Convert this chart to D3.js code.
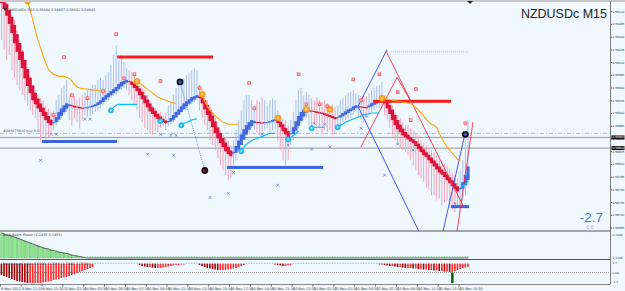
<!DOCTYPE html>
<html>
<head>
<meta charset="utf-8">
<script src="https://cdn.jsdelivr.net/npm/d3@7"></script>
<style>
html, body { margin: 0; padding: 0; background: #f0f8ff; }
svg { display: block; font-family: "DejaVu Sans", sans-serif; }
</style>
</head>
<body>
<div id="chart"></div>
<script>
// heiken ashi close, real high and low for each M15 bar, in points (price * 1e5)
var haClose = [
  59127,59115,59102,59086,59068,59048,59031,59015,58999,58979,
  58964,58950,58936,58928,58920,58913,58905,58897,58891,58887,
  58893,58903,58913,58920,58926,58930,58928,58924,58922,58922,
  58920,58920,58922,58922,58924,58926,58928,58932,58936,58942,
  58946,58950,58954,58958,58962,58968,58972,58974,58976,58972,
  58966,58960,58954,58946,58938,58930,58922,58914,58909,58903,
  58899,58895,58893,58891,58895,58901,58907,58913,58918,58924,
  58930,58934,58938,58942,58944,58946,58940,58930,58918,58907,
  58895,58883,58871,58861,58852,58844,58836,58830,58826,58834,
  58846,58857,58869,58879,58887,58893,58897,58895,58893,58891,
  58891,58893,58893,58895,58897,58899,58891,58883,58875,58869,
  58863,58871,58883,58895,58905,58913,58918,58920,58916,58914,
  58913,58911,58911,58909,58907,58905,58903,58901,58899,58903,
  58907,58911,58914,58918,58920,58924,58926,58924,58922,58922,
  58922,58926,58930,58932,58934,58936,58938,58930,58920,58909,
  58897,58887,58879,58873,58867,58863,58859,58855,58852,58846,
  58840,58834,58828,58824,58818,58812,58806,58800,58794,58790,
  58785,58779,58773,58767,58761,58757,58763,58775,58789,58806
];
var firstOpen = 59145;
var barHigh = [
  59150,59145,59129,59117,59103,59094,59074,59054,59035,59015,
  58995,58985,58966,58956,58946,58940,58936,58926,58920,58913,
  58916,58936,58946,58960,58966,58976,58946,58940,58944,58936,
  58940,58946,58952,58956,58960,58966,58966,58976,58979,58976,
  58985,58991,59005,59025,59044,59015,59025,59011,58999,58995,
  58991,58985,58976,58966,58960,58956,58946,58936,58926,58920,
  58916,58913,58907,58911,58926,58936,58946,58960,58966,58976,
  58979,58985,58991,58995,58999,58995,58966,58956,58946,58936,
  58926,58913,58901,58887,58877,58867,58861,58857,58848,58857,
  58877,58897,58916,58936,58946,58946,58936,58926,58936,58932,
  58940,58936,58926,58936,58940,58936,58916,58907,58901,58897,
  58887,58897,58913,58936,58956,58960,58946,58952,58946,58940,
  58936,58942,58936,58932,58936,58930,58926,58928,58922,58926,
  58936,58940,58946,58950,58952,58956,58950,58946,58942,58946,
  58944,58950,58956,58960,58964,58966,58972,58946,58940,58936,
  58926,58913,58907,58901,58893,58887,58887,58881,58877,58871,
  58867,58857,58853,58848,58842,58838,58834,58828,58822,58818,
  58812,58808,58802,58794,58789,58783,58798,58818,58857,58897
];
var barLow = [
  59054,59035,59015,59025,58995,58979,58966,58956,58946,58936,
  58926,58916,58907,58901,58881,58857,58867,58853,58861,58871,
  58877,58887,58893,58901,58907,58913,58897,58887,58901,58893,
  58881,58897,58907,58903,58905,58909,58913,58916,58920,58926,
  58932,58936,58940,58944,58946,58952,58956,58960,58956,58946,
  58936,58926,58916,58901,58893,58881,58877,58871,58867,58877,
  58873,58881,58885,58877,58885,58889,58893,58901,58907,58913,
  58916,58920,58926,58928,58932,58936,58916,58901,58887,58877,
  58857,58848,58838,58822,58808,58798,58789,58779,58783,58808,
  58818,58834,58848,58857,58867,58873,58881,58877,58873,58867,
  58871,58877,58881,58873,58877,58881,58857,58838,58818,58808,
  58818,58848,58857,58867,58881,58893,58897,58901,58887,58881,
  58885,58877,58881,58867,58877,58873,58877,58867,58873,58881,
  58887,58893,58897,58901,58901,58907,58913,58901,58897,58893,
  58901,58907,58913,58916,58920,58920,58920,58907,58897,58881,
  58867,58857,58852,58842,58838,58834,58828,58818,58808,58798,
  58789,58783,58775,58763,58759,58749,58749,58739,58743,58729,
  58735,58739,58724,58720,58716,58729,58729,58739,58749,58769
];

var timeLabels = [
  "9 Nov 2023","9 Nov 21:30","9 Nov 23:30","10 Nov 01:30","10 Nov 03:30","10 Nov 05:30",
  "10 Nov 07:30","10 Nov 09:30","10 Nov 11:30","10 Nov 13:30","10 Nov 15:30","10 Nov 17:30",
  "10 Nov 19:30","10 Nov 21:30","10 Nov 23:30","13 Nov 01:30","13 Nov 03:30","13 Nov 05:30",
  "13 Nov 07:30","13 Nov 09:30","13 Nov 11:30","13 Nov 13:30","13 Nov 15:30"
];
var priceTicks = [0.59110,0.59085,0.59060,0.59035,0.59010,0.58985,0.58960,0.58935,0.58910,
  0.58885,0.58860,0.58835,0.58810,0.58785,0.58760,0.58735,0.58710,0.58685];

// trailing stop lines: [bar, points]
var orangeStops = [
  [[10,59131],[11,59113],[12,59094],[13,59074],[14,59054],[15,59039],[16,59023],[17,59009],[18,58997],
   [19,58991],[20,58987],[21,58985],[22,58983],[23,58983],[24,58983],[25,58981],[26,58979],[27,58974],
   [28,58966],[29,58962],[30,58960],[31,58959],[32,58958],[33,58958],[34,58957],[35,58956],[36,58956],
   [37,58955],[38,58954],[39,58954],[40,58954]],
  [[52,58973],[53,58970],[54,58966],[55,58962],[56,58958],[57,58954],[58,58950],[59,58946],[60,58942],
   [61,58940],[62,58938],[63,58936],[64,58934],[65,58932],[66,58930],[67,58930]],
  [[77,58948],[78,58934],[79,58924],[80,58916],[81,58911],[82,58905],[83,58901],[84,58897],[85,58893],
   [86,58891],[87,58889],[88,58889],[89,58889],[90,58889],[91,58889]],
  [[106,58901],[107,58899]],
  [[117,58918],[118,58916]],
  [[126,58918],[127,58914]],
  [[146,58940],[147,58939],[148,58938],[149,58937],[150,58936],[151,58936],[152,58934],[153,58934],
   [154,58932],[155,58932],[156,58930],[157,58930],[158,58926],[159,58922],[160,58916],[161,58911],
   [162,58905],[163,58899],[164,58893],[165,58889],[166,58887],[167,58883],[168,58871],[169,58861],
   [170,58852],[171,58844],[172,58838],[173,58832],[174,58826],[175,58820],[176,58816]]
];
var cyanStops = [
  [[42,58916],[43,58922],[44,58926],[45,58928],[46,58928],[47,58928],[48,58928],[49,58928],[50,58928],[52,58928]],
  [[61,58895],[62,58897]],
  [[69,58887],[70,58891],[71,58893],[72,58895],[73,58897],[74,58899],[75,58899]],
  [[92,58836],[93,58844],[94,58850],[95,58853],[96,58857],[97,58859],[98,58861],[99,58863],[100,58865],
   [101,58867],[102,58869],[103,58871],[104,58871],[105,58871]],
  [[110,58859],[111,58863],[112,58867],[113,58871],[114,58875]],
  [[119,58881],[120,58883],[121,58883],[122,58883],[123,58883],[124,58883]],
  [[129,58883],[130,58887],[131,58889],[132,58893],[133,58895],[134,58897],[135,58899],[136,58901],
   [137,58903],[138,58905],[139,58907],[140,58909],[141,58909],[142,58911],[143,58911],[144,58911],[145,58911]],
  [[176,58763],[177,58767],[178,58771],[179,58777]]
];

var redMarks = [[24,59021],[44,59066],[27,58946],[33,58940],[39,58954],[47,58979],[51,58987],[61,58974],
  [76,58960],[20,58907],[95,58970],[114,58987],[135,58977],[145,58987],[152,58952],[97,58920],
  [117,58928],[122,58928],[125,58924],[138,58936],[157,58897],[159,58958],[178,58891]];
var blueMarks = [[19,58869],[21,58869],[32,58899],[34,58899],[15,58818],[56,58830],[66,58828],[61,58869],
  [65,58867],[67,58867],[80,58745],[87,58753],[89,58794],[106,58769],[100,58869],[110,58848],
  [119,58840],[126,58844],[120,58891],[124,58889],[138,58881],[140,58905],[147,58789],[158,58838],
  [152,58850],[174,58733]];
var signalDots = [
  { bar: 68.5, p: 58972, c: "#3a5ee0" },
  { bar: 78, p: 58798, c: "#b01020" },
  { bar: 178, p: 58869, c: "#3a5ee0" }
];

// support / resistance zones: from bar, to bar, points
var zones = [
  { a: 44.4, b: 81.2, p: 59021, c: "#ff1a1a" },
  { a: 142.6, b: 172.5, p: 58934, c: "#ff1a1a" },
  { a: 15.5, b: 44.3, p: 58855, c: "#3b64dd" },
  { a: 86.5, b: 123.4, p: 58804, c: "#3b64dd" },
  { a: 172.5, b: 179.4, p: 58727, c: "#3b64dd" }
];
var trendLines = [
  { pts: [[147.9,59035],[136.8,58924],[160.2,58678]], c: "#3344ee" },
  { pts: [[147.5,59033],[177.1,58729]], c: "#ee3344" },
  { pts: [[137.9,58844],[151.8,58981],[156.8,58936]], c: "#ee3344" },
  { pts: [[169.4,58678],[177.9,58871]], c: "#3344ee" },
  { pts: [[174.8,58678],[180.9,58893]], c: "#ee3344" }
];
var targetLine = { a: 148, b: 179.5, p: 59031 };
var orderPrice = 0.58871, bidPrice = 0.58863, askPrice = 0.58842;

// lower windows
var bullsPower = [0.152,0.146,0.140,0.136,0.133,0.127,0.121,0.115,0.109,0.103,0.097,0.091,0.085,
  0.079,0.073,0.067,0.061,0.058,0.055,0.048,0.045,0.042,0.036,0.033,0.030,0.027,0.024,0.018,
  0.015,0.012,0.009,0.006,0.003];
var momentum = [-0.45,-0.63,-0.80,-0.98,-1.16,-1.34,-1.52,-1.61,-1.70,-1.79,-1.88,-1.88,-1.88,-1.88,
  -1.88,-1.88,-1.79,-1.70,-1.61,-1.52,-1.34,-1.25,-1.16,-0.98,-0.89,-0.80,-0.63,-0.45,-0.27,-0.09,
  0.09,0.27,0.45,0.63,0.81,0.98,
  null,null,null,null,null,null,null,null,null,null,null,null,null,null,null,null,null,
  1.34,1.16,1.07,0.98,0.98,0.89,0.81,0.81,0.81,0.89,0.98,1.07,1.16,1.25,1.34,1.34,1.43,1.52,
  null,null,null,null,null,
  1.34,1.16,0.98,0.81,0.72,0.63,0.54,0.45,0.45,0.45,0.45,0.54,0.63,0.72,0.81,0.98,1.16,1.34,
  null,null,null,null,null,null,null,null,null,null,null,
  1.43,1.34,1.25,1.16,1.16,1.25,1.34,
  null,null,null,null,null,null,null,null,null,null,null,null,null,null,null,null,null,null,null,
  null,null,null,null,null,null,null,null,null,null,null,null,null,null,
  1.52,1.43,1.34,1.25,1.16,1.16,1.07,0.98,0.98,0.89,0.81,0.81,0.81,0.72,0.72,0.63,0.63,0.54,0.54,
  0.45,0.45,0.36,0.36,0.27,0.27,0.18,0.18,0.09,0.09,0.27,0.45,0.63,0.81,0.89,0.98];
var momentumSignal = { bar: 173, v: -1.9 };

var axisX = 610.5;

var svg = d3.select("#chart").append("svg")
  .attr("width", 625)
  .attr("height", 291);

svg.append("rect").attr("width", 625).attr("height", 291).attr("fill", "#f0f8ff");

var x = d3.scaleLinear().domain([0, 179]).range([1.5, 1.5 + 179 * 2.606]);
var y = d3.scaleLinear().domain([0.59110, 0.58685]).range([11.7, 228]);
var yB = d3.scaleLinear().domain([0, 0.1455]).range([258, 234]);
var yM = d3.scaleLinear().domain([1.7, -1.7]).range([263, 282]);
function py(pt) { return y(pt / 1e5); }

svg.append("defs").append("clipPath").attr("id", "mainClip")
  .append("rect").attr("x", 0).attr("y", 2).attr("width", axisX).attr("height", 229);
var main = svg.append("g").attr("clip-path", "url(#mainClip)");

// order + price lines
main.append("line").attr("x1", 0).attr("x2", axisX)
  .attr("y1", y(orderPrice)).attr("y2", y(orderPrice))
  .attr("stroke", "#a9bde6").attr("stroke-dasharray", "4,2,1,2");
[bidPrice, askPrice].forEach(function(v) {
  main.append("line").attr("x1", 0).attr("x2", axisX).attr("y1", y(v)).attr("y2", y(v))
    .attr("stroke", "#8c8c8c").attr("stroke-width", 0.9);
});
main.append("text").attr("x", 3).attr("y", y(orderPrice) - 1.2)
  .attr("font-size", 3.4).attr("fill", "#555").text("#088875620 buy 0.01");

// candles: heiken ashi open = mid of the previous body
var bars = [];
haClose.forEach(function(c, i) {
  var o = i === 0 ? firstOpen : (bars[i - 1].o + bars[i - 1].c) / 2;
  bars.push({ i: i, o: o, c: c, h: barHigh[i], l: barLow[i], up: c >= o });
});

main.selectAll("line.wick").data(bars).enter().append("line")
  .attr("class", "wick")
  .attr("x1", function(d) { return x(d.i); })
  .attr("x2", function(d) { return x(d.i); })
  .attr("y1", function(d) { return py(d.h); })
  .attr("y2", function(d) { return py(d.l); })
  .attr("stroke", function(d) { return d.up ? "#a8bdf0" : "#f0a3b7"; })
  .attr("stroke-width", 1);

main.selectAll("rect.body").data(bars).enter().append("rect")
  .attr("class", "body")
  .attr("x", function(d) { return x(d.i) - 1.6; })
  .attr("width", 3.2)
  .attr("y", function(d) { return Math.min(py(d.o), py(d.c)); })
  .attr("height", function(d) { return Math.max(1, Math.abs(py(d.o) - py(d.c))); })
  .attr("fill", function(d) { return d.up ? "#4169e1" : "#dc143c"; });

var line = d3.line()
  .x(function(d) { return x(d[0]); })
  .y(function(d) { return py(d[1]); });

// zones
main.selectAll("rect.zone").data(zones).enter().append("rect")
  .attr("x", function(d) { return x(d.a); })
  .attr("width", function(d) { return x(d.b) - x(d.a); })
  .attr("y", function(d) { return py(d.p) - 1.5; })
  .attr("height", 3)
  .attr("fill", function(d) { return d.c; });

main.append("line")
  .attr("x1", x(targetLine.a)).attr("x2", x(targetLine.b))
  .attr("y1", py(targetLine.p)).attr("y2", py(targetLine.p))
  .attr("stroke", "#b8b8c8").attr("stroke-dasharray", "1,1");

trendLines.forEach(function(t) {
  main.append("path").attr("d", line(t.pts)).attr("fill", "none")
    .attr("stroke", t.c).attr("stroke-width", 0.9);
});

// blue dotted link between signals
main.append("path").attr("d", line([[signalDots[0].bar, signalDots[0].p], [signalDots[1].bar, signalDots[1].p]]))
  .attr("stroke", "#5a7be6").attr("stroke-dasharray", "1,1").attr("fill", "none").attr("stroke-width", 0.8);

// stop lines
orangeStops.forEach(function(s) {
  main.append("path").attr("d", line(s)).attr("fill", "none")
    .attr("stroke", "#ffa500").attr("stroke-width", 1.1);
  main.append("circle").attr("cx", x(s[0][0])).attr("cy", py(s[0][1])).attr("r", 3)
    .attr("fill", "#ffa91f").attr("stroke", "#e88d00").attr("stroke-width", 0.6);
  main.append("circle").attr("cx", x(s[0][0])).attr("cy", py(s[0][1])).attr("r", 1)
    .attr("fill", "#ffe0a0");
});
cyanStops.forEach(function(s, k) {
  main.append("path").attr("d", line(s)).attr("fill", "none")
    .attr("stroke", "#00bfff").attr("stroke-width", 1.1);
  if (k < cyanStops.length - 1) {
    main.append("circle").attr("cx", x(s[0][0])).attr("cy", py(s[0][1])).attr("r", 2.6)
      .attr("fill", "#29c4f5").attr("stroke", "#0f9fd8").attr("stroke-width", 0.6);
    main.append("circle").attr("cx", x(s[0][0])).attr("cy", py(s[0][1])).attr("r", 0.9)
      .attr("fill", "#c8f0ff");
  }
});

// markers
var rm = main.selectAll("g.rm").data(redMarks).enter().append("g")
  .attr("transform", function(d) { return "translate(" + x(d[0]) + "," + py(d[1]) + ")"; });
rm.append("rect").attr("x", -1.8).attr("y", -1.8).attr("width", 3.6).attr("height", 3.6).attr("fill", "#ff5a5a");
rm.append("path").attr("d", "M-1.1,-1.1L1.1,1.1M1.1,-1.1L-1.1,1.1").attr("stroke", "#fff").attr("stroke-width", 0.6);

var bm = main.selectAll("g.bm").data(blueMarks).enter().append("g")
  .attr("transform", function(d) { return "translate(" + x(d[0]) + "," + py(d[1]) + ")"; });
bm.append("path").attr("d", "M-1.4,-1.4L1.4,1.4M1.4,-1.4L-1.4,1.4").attr("stroke", "#5f80e0").attr("stroke-width", 0.8);

signalDots.forEach(function(s) {
  main.append("circle").attr("cx", x(s.bar)).attr("cy", py(s.p)).attr("r", 3.4).attr("fill", "#111");
  main.append("circle").attr("cx", x(s.bar)).attr("cy", py(s.p)).attr("r", 1.6).attr("fill", s.c);
});

// frame
svg.append("line").attr("x1", 0).attr("x2", 625).attr("y1", 1).attr("y2", 1).attr("stroke", "#9a9a9a");
svg.append("line").attr("x1", axisX).attr("x2", axisX).attr("y1", 1).attr("y2", 284).attr("stroke", "#7a7a7a");
svg.append("line").attr("x1", 0).attr("x2", axisX).attr("y1", 231).attr("y2", 231).attr("stroke", "#555").attr("stroke-width", 1.2);
svg.append("line").attr("x1", 0).attr("x2", axisX).attr("y1", 259.5).attr("y2", 259.5).attr("stroke", "#555").attr("stroke-width", 1.2);
svg.append("line").attr("x1", 0).attr("x2", axisX).attr("y1", 284.5).attr("y2", 284.5).attr("stroke", "#888");
svg.append("path").attr("d", "M467,1L473,1L470,4Z").attr("fill", "#222");

// header texts
svg.append("path").attr("d", "M3,8L7,8L5,11Z").attr("fill", "#333");
svg.append("text").attr("x", 10).attr("y", 11).attr("font-size", 3.4).attr("fill", "#444")
  .text("NZDUSDc,M15  0.58884 0.58897 0.58841 0.58845");
svg.append("text").attr("x", 607).attr("y", 18).attr("text-anchor", "end")
  .attr("font-family", "Liberation Sans, Arial, sans-serif").attr("font-size", 12.5).attr("fill", "#222")
  .text("NZDUSDc M15");
svg.append("text").attr("x", 603).attr("y", 222).attr("text-anchor", "end")
  .attr("font-family", "Liberation Sans, Arial, sans-serif").attr("font-size", 13.5).attr("fill", "#4a74d9")
  .text("-2.7");
svg.append("text").attr("x", 590).attr("y", 229).attr("text-anchor", "middle")
  .attr("font-family", "Liberation Sans, Arial, sans-serif").attr("font-size", 5).attr("fill", "#8ea6e8")
  .text("0.0");

// price axis
priceTicks.forEach(function(v) {
  svg.append("line").attr("x1", axisX).attr("x2", axisX + 1.5).attr("y1", y(v)).attr("y2", y(v)).attr("stroke", "#666");
  svg.append("text").attr("x", axisX + 2).attr("y", y(v) + 1).attr("font-size", 2.9).attr("fill", "#333")
    .text(v.toFixed(5));
});
[bidPrice, askPrice].forEach(function(v) {
  svg.append("rect").attr("x", axisX + 1).attr("y", y(v) - 2).attr("width", 13).attr("height", 4).attr("fill", "#111");
  svg.append("text").attr("x", axisX + 2).attr("y", y(v) + 1).attr("font-size", 2.9).attr("fill", "#fff")
    .text(v.toFixed(5));
});

// bulls power window
var bp = bars.map(function(d) { return bullsPower[d.i] !== undefined ? bullsPower[d.i] : 0; });
svg.selectAll("rect.bp").data(bp).enter().append("rect")
  .attr("x", function(d, i) { return x(i) - 1; })
  .attr("width", 1.8)
  .attr("y", function(d) { return yB(d); })
  .attr("height", function(d) { return 258 - yB(d); })
  .attr("fill", "#8fe38f").attr("stroke", "#3cb43c").attr("stroke-width", 0.3);
svg.append("path").attr("d", d3.line().x(function(d, i) { return x(i); }).y(function(d) { return yB(d); })(bp))
  .attr("fill", "none").attr("stroke", "#555").attr("stroke-width", 0.9);
bp.forEach(function(d, i) {
  if (i >= bullsPower.length) {
    svg.append("rect").attr("x", x(i) - 0.8).attr("y", 256.6).attr("width", 1.4).attr("height", 1.2).attr("fill", "#3cc83c");
  }
});
svg.append("text").attr("x", 3).attr("y", 235.5).attr("font-size", 3.4).attr("fill", "#444")
  .text("Bulls Bears Power (1.1455 0.1455)");
svg.append("text").attr("x", axisX + 2).attr("y", 235.5).attr("font-size", 2.9).attr("fill", "#333").text("0.1450");
svg.append("text").attr("x", axisX + 2).attr("y", 258.5).attr("font-size", 2.9).attr("fill", "#333").text("0.1449");

// momentum window
svg.append("line").attr("x1", 0).attr("x2", axisX).attr("y1", yM(0)).attr("y2", yM(0))
  .attr("stroke", "#999").attr("stroke-dasharray", "1,1");
momentum.forEach(function(v, i) {
  if (v === null) {
    svg.append("rect").attr("x", x(i) - 0.7).attr("y", 262.8).attr("width", 1.3).attr("height", 1).attr("fill", "#6ad86a");
  } else {
    var prev = i > 0 ? momentum[i - 1] : null;
    var falling = prev === null || v < prev;
    svg.append("rect").attr("x", x(i) - 0.9).attr("width", 1.6)
      .attr("y", yM(1.6)).attr("height", Math.max(0.8, yM(v) - yM(1.6)))
      .attr("fill", falling ? "#a80000" : "#ff2a2a");
  }
});
svg.append("rect").attr("x", x(momentumSignal.bar) - 1.3).attr("width", 2.6)
  .attr("y", yM(0)).attr("height", yM(momentumSignal.v) - yM(0)).attr("fill", "#0a6b0a");
svg.append("text").attr("x", 3).attr("y", 264.5).attr("font-size", 3.4).attr("fill", "#444")
  .text("Momentum Index 0.0000 -0.7050 (1.7000 -1.7000)");
[["1.7", 1.7], ["0.00", 0], ["-1.7", -1.7]].forEach(function(t) {
  svg.append("text").attr("x", axisX + 2).attr("y", yM(t[1]) + 1).attr("font-size", 2.9).attr("fill", "#333").text(t[0]);
});

// time axis
timeLabels.forEach(function(t, k) {
  var tx = x(k * 8) - 1.2;
  svg.append("line").attr("x1", tx).attr("x2", tx).attr("y1", 284.5).attr("y2", 286.5).attr("stroke", "#666");
  svg.append("text").attr("x", tx + 0.8).attr("y", 289.5).attr("font-size", 3.4).attr("fill", "#333").text(t);
});
</script>
</body>
</html>
